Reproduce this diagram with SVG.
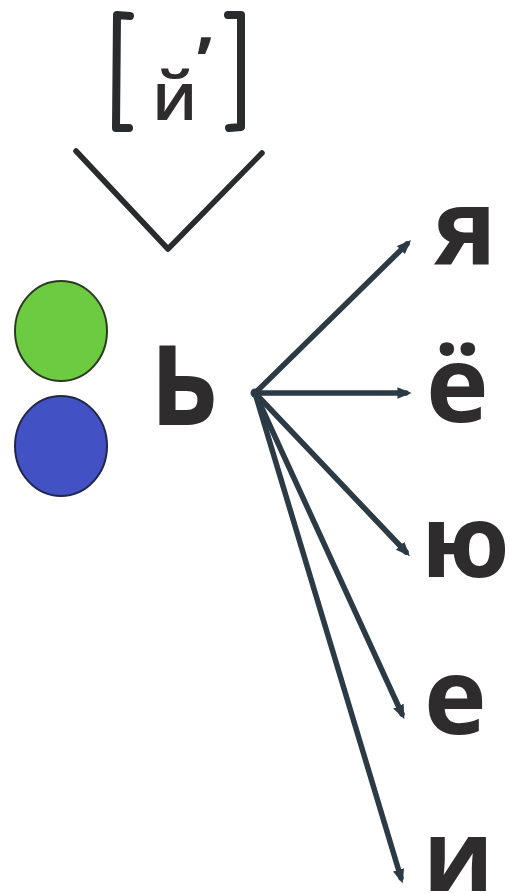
<svg xmlns="http://www.w3.org/2000/svg" width="510" height="894" viewBox="0 0 510 894">
  <style>
    .ink { fill: none; stroke: #2a2b2d; stroke-linecap: round; stroke-linejoin: round; }
    .conn { fill: none; stroke: #2b3a44; stroke-width: 5.5; stroke-linecap: round; }
    .big { font-family: "Open Sans", "Liberation Sans", sans-serif; font-weight: 700; fill: #2e2c2c; }
    .snd { font-family: "Open Sans", "Liberation Sans", sans-serif; font-weight: 600; fill: #2e2c2c; }
  </style>
  <defs>
    <marker id="tip" viewBox="0 0 10 10" refX="6" refY="5" markerWidth="2.6" markerHeight="2.6" orient="auto" markerUnits="strokeWidth">
      <path d="M0,1 L10,5 L0,9 Z" fill="#2b3a44"/>
    </marker>
  </defs>
  <rect width="510" height="894" fill="#ffffff"/>

  <g id="sound">
    <path class="ink" stroke-width="8" d="M130,16 L117,15 L116,128 L129,128"/>
    <path class="ink" stroke-width="8" d="M228,15 L241,15 L241,127 L229,128"/>
    <text class="snd" x="152" y="120" font-size="67">й</text>
    <text class="big" x="197" y="86" font-size="68">’</text>
  </g>

  <g id="down-mark">
    <polyline class="ink" stroke-width="5.5" points="76,151 168,249 262,153"/>
  </g>

  <g id="circle-green">
    <ellipse cx="61" cy="331" rx="46" ry="50" fill="#6ccb40" stroke="#2c3a22" stroke-width="2"/>
  </g>
  <g id="circle-blue">
    <ellipse cx="61" cy="446" rx="46" ry="50" fill="#4252c4" stroke="#22264a" stroke-width="2"/>
  </g>

  <g id="soft-sign">
    <text class="big" transform="translate(151,425) scale(0.74,1)" x="0" y="0" font-size="146">ь</text>
  </g>

  <g id="connectors">
    <circle cx="255" cy="393" r="4.5" fill="#2b3a44"/>
    <line class="conn" x1="255" y1="393" x2="407" y2="244" marker-end="url(#tip)"/>
    <line class="conn" x1="255" y1="393" x2="406" y2="393" marker-end="url(#tip)"/>
    <line class="conn" x1="255" y1="393" x2="406" y2="552" marker-end="url(#tip)"/>
    <line class="conn" x1="255" y1="393" x2="402" y2="714" marker-end="url(#tip)"/>
    <line class="conn" x1="255" y1="393" x2="401" y2="878" marker-end="url(#tip)"/>
  </g>

  <g id="letter-ya"><text class="big" x="434" y="265" font-size="106">я</text></g>
  <g id="letter-yo"><text class="big" x="426" y="422" font-size="106">ё</text></g>
  <g id="letter-yu"><text class="big" x="421" y="577" font-size="101">ю</text></g>
  <g id="letter-ye"><text class="big" x="424" y="734" font-size="106">е</text></g>
  <g id="letter-i"><text class="big" x="423" y="891" font-size="98">и</text></g>
</svg>
